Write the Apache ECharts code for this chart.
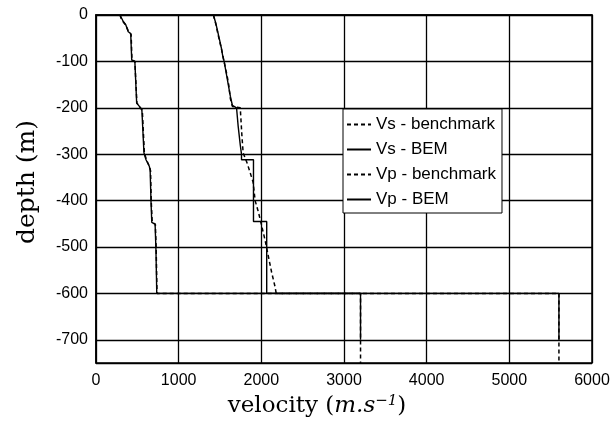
<!DOCTYPE html>
<html>
<head>
<meta charset="utf-8">
<script src="https://cdn.jsdelivr.net/npm/echarts@6/dist/echarts.min.js"></script>
<style>
html,body{margin:0;padding:0;background:#fff;}
#chart{width:616px;height:425px;}
</style>
</head>
<body>
<div id="chart"></div>
<script>
// Data (velocity in m/s, depth in m)
const vsBenchVel   = [290, 305, 330, 360, 395, 425, 435, 470, 495, 530, 560, 585, 600, 610, 650, 660, 668, 680, 718, 728, 738, 3200, 3200];
const vsBenchDepth = [0, -8, -15, -22, -36, -42, -97, -100, -190, -198, -205, -297, -300, -312, -328, -336, -400, -447, -451, -505, -600, -600, -750];

const vsBemVel   = [290, 310, 330, 360, 390, 420, 432, 470, 492, 525, 555, 580, 595, 605, 645, 655, 665, 675, 715, 725, 735, 3200, 3200];
const vsBemDepth = [0, -7, -14, -21, -36, -40, -97, -100, -190, -197, -205, -297, -300, -312, -326, -335, -400, -447, -451, -505, -600, -600, -700];

const vpBenchVel   = [1420, 1450, 1480, 1520, 1545, 1565, 1585, 1605, 1625, 1650, 1745, 1765, 1780, 1800, 1830, 1865, 1900, 1925, 1965, 2005, 2045, 2085, 2125, 2165, 2180, 5600, 5600];
const vpBenchDepth = [0, -20, -45, -75, -97, -100, -130, -150, -180, -197, -200, -260, -297, -300, -320, -340, -360, -400, -425, -455, -485, -520, -555, -585, -600, -600, -750];

const vpBemVel   = [1420, 1445, 1465, 1490, 1515, 1535, 1550, 1575, 1600, 1625, 1650, 1700, 1720, 1745, 1760, 1760, 1905, 1905, 2065, 2065, 5600, 5600];
const vpBemDepth = [0, -15, -30, -50, -70, -90, -100, -125, -150, -175, -195, -200, -240, -280, -300, -312, -312, -445, -445, -600, -600, -700];

const xTicks = [0, 1000, 2000, 3000, 4000, 5000, 6000];
const yTickLabels = ['0', '-100', '-200', '-300', '-400', '-500', '-600', '-700'];

const seriesNames = ['Vs - benchmark', 'Vs - BEM', 'Vp - benchmark', 'Vp - BEM'];

function pts(vel, depth) {
  return vel.map((v, i) => [v, -depth[i]]);
}

const chart = echarts.init(document.getElementById('chart'), null, {renderer: 'canvas'});

const dashed = {color: '#000', width: 1.5, type: [4, 3]};
const solid = {color: '#000', width: 1.4, type: 'solid'};
const noSym = {color: '#000', opacity: 0, borderWidth: 0};

chart.setOption({
  animation: false,
  backgroundColor: '#fff',
  color: ['#000', '#000', '#000', '#000'],
  grid: {left: 96, top: 15, right: 24, bottom: 62, show: true, borderColor: '#000', borderWidth: 1.5, backgroundColor: 'transparent'},
  xAxis: {
    type: 'value', min: 0, max: 6000, interval: 1000,
    axisLine: {show: true, lineStyle: {color: '#000', width: 1.5}},
    axisTick: {show: false},
    splitLine: {show: true, lineStyle: {color: '#000', width: 1.3}},
    axisLabel: {color: '#000', fontFamily: 'Liberation Sans', fontSize: 16, margin: 10,
      formatter: v => xTicks.indexOf(v) >= 0 ? String(v) : ''},
    name: '{n|velocity (}{i|m.s}{s|−1}{n|)}',
    nameLocation: 'middle', nameGap: 25,
    nameTextStyle: {
      padding: [0, 54, 0, 0],
      rich: {
        n: {fontFamily: 'DejaVu Serif', fontSize: 23, color: '#000'},
        i: {fontFamily: 'DejaVu Serif', fontStyle: 'italic', fontSize: 23, color: '#000'},
        s: {fontFamily: 'DejaVu Serif', fontStyle: 'italic', fontSize: 15, color: '#000', verticalAlign: 'top', padding: [0, 0, 10, 0]}
      }
    }
  },
  yAxis: {
    type: 'value', min: 0, max: 750, interval: 100, inverse: true,
    axisLine: {show: true, lineStyle: {color: '#000', width: 1.5}},
    axisTick: {show: false},
    splitLine: {show: true, lineStyle: {color: '#000', width: 1.3}},
    axisLabel: {color: '#000', fontFamily: 'Liberation Sans', fontSize: 16, margin: 8,
      showMaxLabel: false,
      formatter: v => { const k = Math.round(v / 100); return (v % 100 === 0 && k < yTickLabels.length) ? yTickLabels[k] : ''; }},
    name: 'depth (m)',
    nameLocation: 'middle', nameGap: 56, nameRotate: 90,
    nameTextStyle: {fontFamily: 'DejaVu Serif', fontSize: 25, color: '#000', padding: [0, 0, 0, 14]}
  },
  legend: {
    data: seriesNames,
    orient: 'vertical',
    left: 343, top: 109,
    backgroundColor: '#fff',
    borderColor: '#000', borderWidth: 1,
    borderRadius: 0,
    padding: [7, 6, 5, 3],
    itemWidth: 24, itemHeight: 10, itemGap: 8, itemTextGap: 1,
    itemStyle: noSym,
    textStyle: {color: '#000', fontFamily: 'Liberation Sans', fontSize: 17}
  },
  series: [
    {name: seriesNames[0], type: 'line', data: pts(vsBenchVel, vsBenchDepth), symbol: 'none', itemStyle: noSym, lineStyle: dashed, z: 3},
    {name: seriesNames[1], type: 'line', data: pts(vsBemVel, vsBemDepth), symbol: 'none', itemStyle: noSym, lineStyle: solid, z: 2},
    {name: seriesNames[2], type: 'line', data: pts(vpBenchVel, vpBenchDepth), symbol: 'none', itemStyle: noSym, lineStyle: dashed, z: 3},
    {name: seriesNames[3], type: 'line', data: pts(vpBemVel, vpBemDepth), symbol: 'none', itemStyle: noSym, lineStyle: solid, z: 2}
  ]
});
</script>
</body>
</html>
